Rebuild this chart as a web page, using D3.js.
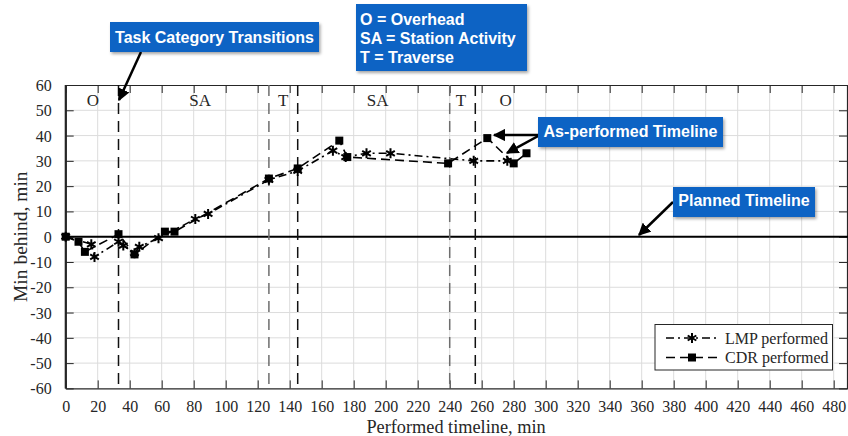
<!DOCTYPE html>
<html>
<head>
<meta charset="utf-8">
<script src="https://cdn.jsdelivr.net/npm/d3@7"></script>
<style>
  html, body { margin: 0; padding: 0; background: #fff; }
  svg { display: block; }
</style>
</head>
<body>
<svg id="chart" width="848" height="436"></svg>
<script>
// Minutes behind schedule along the performed timeline
const lmpPerformed = [
  [0, 0], [16, -3], [18, -8], [33, -2], [36, -3.5], [43, -6.5], [46, -4], [58, -0.6],
  [81, 7], [89, 9], [127, 22.5], [145, 26], [167, 34], [175, 31.5], [188, 33], [203, 33],
  [255, 30], [276, 30]
];
const cdrPerformed = [
  [0, 0], [8, -2], [12, -6], [33, 1], [43, -7], [62, 2], [68, 2], [127, 23],
  [145, 27], [171, 38], [176, 31.5], [239, 29], [263.5, 39], [280, 29], [288, 33]
];
// Task category transitions (min) and which crew they belong to
const transitions = [
  { t: 33, crew: "LMP" }, { t: 127, crew: "CDR" }, { t: 145, crew: "LMP" },
  { t: 240, crew: "CDR" }, { t: 256, crew: "LMP" }
];
// Task category labels placed at segment centres (min)
const categories = [
  { label: "O", t: 17 }, { label: "SA", t: 84 }, { label: "T", t: 136 },
  { label: "SA", t: 195 }, { label: "T", t: 247 }, { label: "O", t: 275 }
];
const xTicks = d3.range(0, 481, 20);
const yTicks = d3.range(-60, 61, 10);

const svg = d3.select("#chart");
const x = d3.scaleLinear().domain([0, 490]).range([65.7, 849.7]);
const y = d3.scaleLinear().domain([-60, 60]).range([388.4, 85]);

const serif = "'Liberation Serif', 'DejaVu Serif', serif";
const sans = "'Liberation Sans', Arial, Helvetica, sans-serif";
const plain = d => String(d);

// grid
const grid = svg.append("g").attr("stroke", "#dcdcdc").attr("stroke-width", 1);
grid.selectAll(".gx").data(xTicks.slice(1)).join("line")
  .attr("x1", d => x(d)).attr("x2", d => x(d))
  .attr("y1", y(-60)).attr("y2", y(60));
grid.selectAll(".gy").data(yTicks.slice(1, -1)).join("line")
  .attr("x1", x(0)).attr("x2", 848)
  .attr("y1", d => y(d)).attr("y2", d => y(d));

// axes with inward ticks
const axisG = svg.append("g");
const axBottom = axisG.append("g").attr("transform", `translate(0,${y(-60)})`)
  .call(d3.axisBottom(x).tickValues(xTicks).tickFormat(plain).tickSizeInner(-8).tickSizeOuter(0).tickPadding(12));
const axTop = axisG.append("g").attr("transform", `translate(0,${y(60)})`)
  .call(d3.axisTop(x).tickValues(xTicks).tickSizeInner(-8).tickSizeOuter(0).tickFormat(""));
const axLeft = axisG.append("g").attr("transform", `translate(${x(0)},0)`)
  .call(d3.axisLeft(y).tickValues(yTicks).tickFormat(plain).tickSizeInner(-8).tickSizeOuter(0).tickPadding(14));
const axRight = axisG.append("g").attr("transform", `translate(847,0)`)
  .call(d3.axisRight(y).tickValues(yTicks).tickSizeInner(-8).tickSizeOuter(0).tickFormat(""));
axisG.selectAll(".domain").attr("stroke", "#262626").attr("stroke-width", 1.2);
axisG.selectAll(".tick line").attr("stroke", "#262626").attr("stroke-width", 1);
axisG.selectAll(".tick text").attr("fill", "#262626").attr("font-family", serif).attr("font-size", 16);
axLeft.selectAll(".tick text").attr("dy", "0.34em");
svg.append("line").attr("x1", x(0)).attr("x2", x(0)).attr("y1", y(60)).attr("y2", y(-60))
  .attr("stroke", "#262626").attr("stroke-width", 2);

// axis titles
svg.append("text").attr("x", 456).attr("y", 432.5).attr("text-anchor", "middle")
  .attr("font-family", serif).attr("font-size", 18.3).attr("fill", "#262626")
  .text("Performed timeline, min");
svg.append("text").attr("transform", `translate(27,${y(0)}) rotate(-90)`)
  .attr("text-anchor", "middle").attr("font-family", serif).attr("font-size", 19.5).attr("fill", "#262626")
  .text("Min behind, min");

// planned timeline (zero line)
svg.append("line").attr("x1", x(0)).attr("x2", 848).attr("y1", y(0)).attr("y2", y(0))
  .attr("stroke", "#000").attr("stroke-width", 2);

// transition markers
svg.append("g").selectAll("line").data(transitions).join("line")
  .attr("x1", d => x(d.t)).attr("x2", d => x(d.t))
  .attr("y1", y(60)).attr("y2", y(-60))
  .attr("stroke", d => d.crew === "CDR" ? "#6e6e6e" : "#111")
  .attr("stroke-width", 1.5).attr("stroke-dasharray", "11,7");

// category labels
svg.append("g").selectAll("text").data(categories).join("text")
  .attr("x", d => x(d.t)).attr("y", 106).attr("text-anchor", "middle")
  .attr("font-family", serif).attr("font-size", 17).attr("fill", "#262626")
  .text(d => d.label);

// performed series
const line = d3.line().x(d => x(d[0])).y(d => y(d[1]));
svg.append("path").datum(cdrPerformed).attr("d", line)
  .attr("fill", "none").attr("stroke", "#000").attr("stroke-width", 1.6)
  .attr("stroke-dasharray", "9,5");
svg.append("path").datum(lmpPerformed).attr("d", line)
  .attr("fill", "none").attr("stroke", "#000").attr("stroke-width", 1.6)
  .attr("stroke-dasharray", "8,4,2,4");
const square = d3.symbol().type(d3.symbolSquare).size(64);
const asterisk = d3.symbol().type(d3.symbolAsterisk).size(70);
svg.append("g").selectAll("path").data(lmpPerformed).join("path")
  .attr("transform", d => `translate(${x(d[0])},${y(d[1])})`)
  .attr("d", asterisk).attr("fill", "none").attr("stroke", "#000").attr("stroke-width", 2);
svg.append("g").selectAll("path").data(cdrPerformed).join("path")
  .attr("transform", d => `translate(${x(d[0])},${y(d[1])})`)
  .attr("d", square).attr("fill", "#000");

// legend
const lg = svg.append("g");
lg.append("rect").attr("x", 655).attr("y", 324.5).attr("width", 177.5).attr("height", 45.5)
  .attr("fill", "#fff").attr("stroke", "#262626").attr("stroke-width", 1);
const legendItems = [
  { name: "LMP performed", dash: "8,4,2,4", sym: asterisk, yy: 338 },
  { name: "CDR performed", dash: "9,5", sym: square, yy: 357.5 }
];
legendItems.forEach(it => {
  lg.append("line").attr("x1", 666).attr("x2", 719).attr("y1", it.yy).attr("y2", it.yy)
    .attr("stroke", "#000").attr("stroke-width", 1.6).attr("stroke-dasharray", it.dash);
  const m = lg.append("path").attr("transform", `translate(692,${it.yy})`).attr("d", it.sym);
  if (it.sym === asterisk) m.attr("fill", "none").attr("stroke", "#000").attr("stroke-width", 2);
  else m.attr("fill", "#000");
  lg.append("text").attr("x", 725).attr("y", it.yy).attr("dy", "0.35em")
    .attr("font-family", serif).attr("font-size", 16).attr("fill", "#262626").text(it.name);
});

// callouts
const defs = svg.append("defs");
const f = defs.append("filter").attr("id", "shadow").attr("x", "-10%").attr("y", "-20%")
  .attr("width", "130%").attr("height", "150%");
f.append("feDropShadow").attr("dx", 1.5).attr("dy", 2).attr("stdDeviation", 1.5)
  .attr("flood-color", "#000").attr("flood-opacity", 0.35);
defs.append("marker").attr("id", "arrow").attr("viewBox", "0 0 10 10")
  .attr("refX", 9).attr("refY", 5).attr("markerWidth", 5).attr("markerHeight", 5)
  .attr("orient", "auto-start-reverse").attr("markerUnits", "strokeWidth")
  .append("path").attr("d", "M0,0 L10,5 L0,10 z").attr("fill", "#000");

const blue = "#0a63c4";
function callout(x0, y0, w, h, lines, ty, lh) {
  const g = svg.append("g");
  g.append("rect").attr("x", x0).attr("y", y0).attr("width", w).attr("height", h)
    .attr("fill", blue).attr("filter", "url(#shadow)");
  lines.forEach((t, i) => {
    g.append("text").attr("x", lines.length > 1 ? x0 + 4 : x0 + w / 2)
      .attr("y", ty + i * lh)
      .attr("text-anchor", lines.length > 1 ? "start" : "middle")
      .attr("font-family", sans).attr("font-weight", "bold").attr("font-size", 16)
      .attr("fill", "#fff").text(t);
  });
}
function arrow(x1, y1, x2, y2) {
  svg.append("line").attr("x1", x1).attr("y1", y1).attr("x2", x2).attr("y2", y2)
    .attr("stroke", "#000").attr("stroke-width", 2.5).attr("marker-end", "url(#arrow)");
}

arrow(141, 52, 119, 100);
arrow(540, 135, 494, 135);
arrow(540, 135, 507, 153);
arrow(673, 202, 639, 235);

callout(110, 22, 209, 30, ["Task Category Transitions"], 43, 0);
callout(356, 4, 171, 67, ["O = Overhead", "SA = Station Activity", "T = Traverse"], 24.5, 19);
callout(538, 117, 185, 30, ["As-performed Timeline"], 136.5, 0);
callout(673, 187, 142, 30, ["Planned Timeline"], 206, 0);
</script>
</body>
</html>
